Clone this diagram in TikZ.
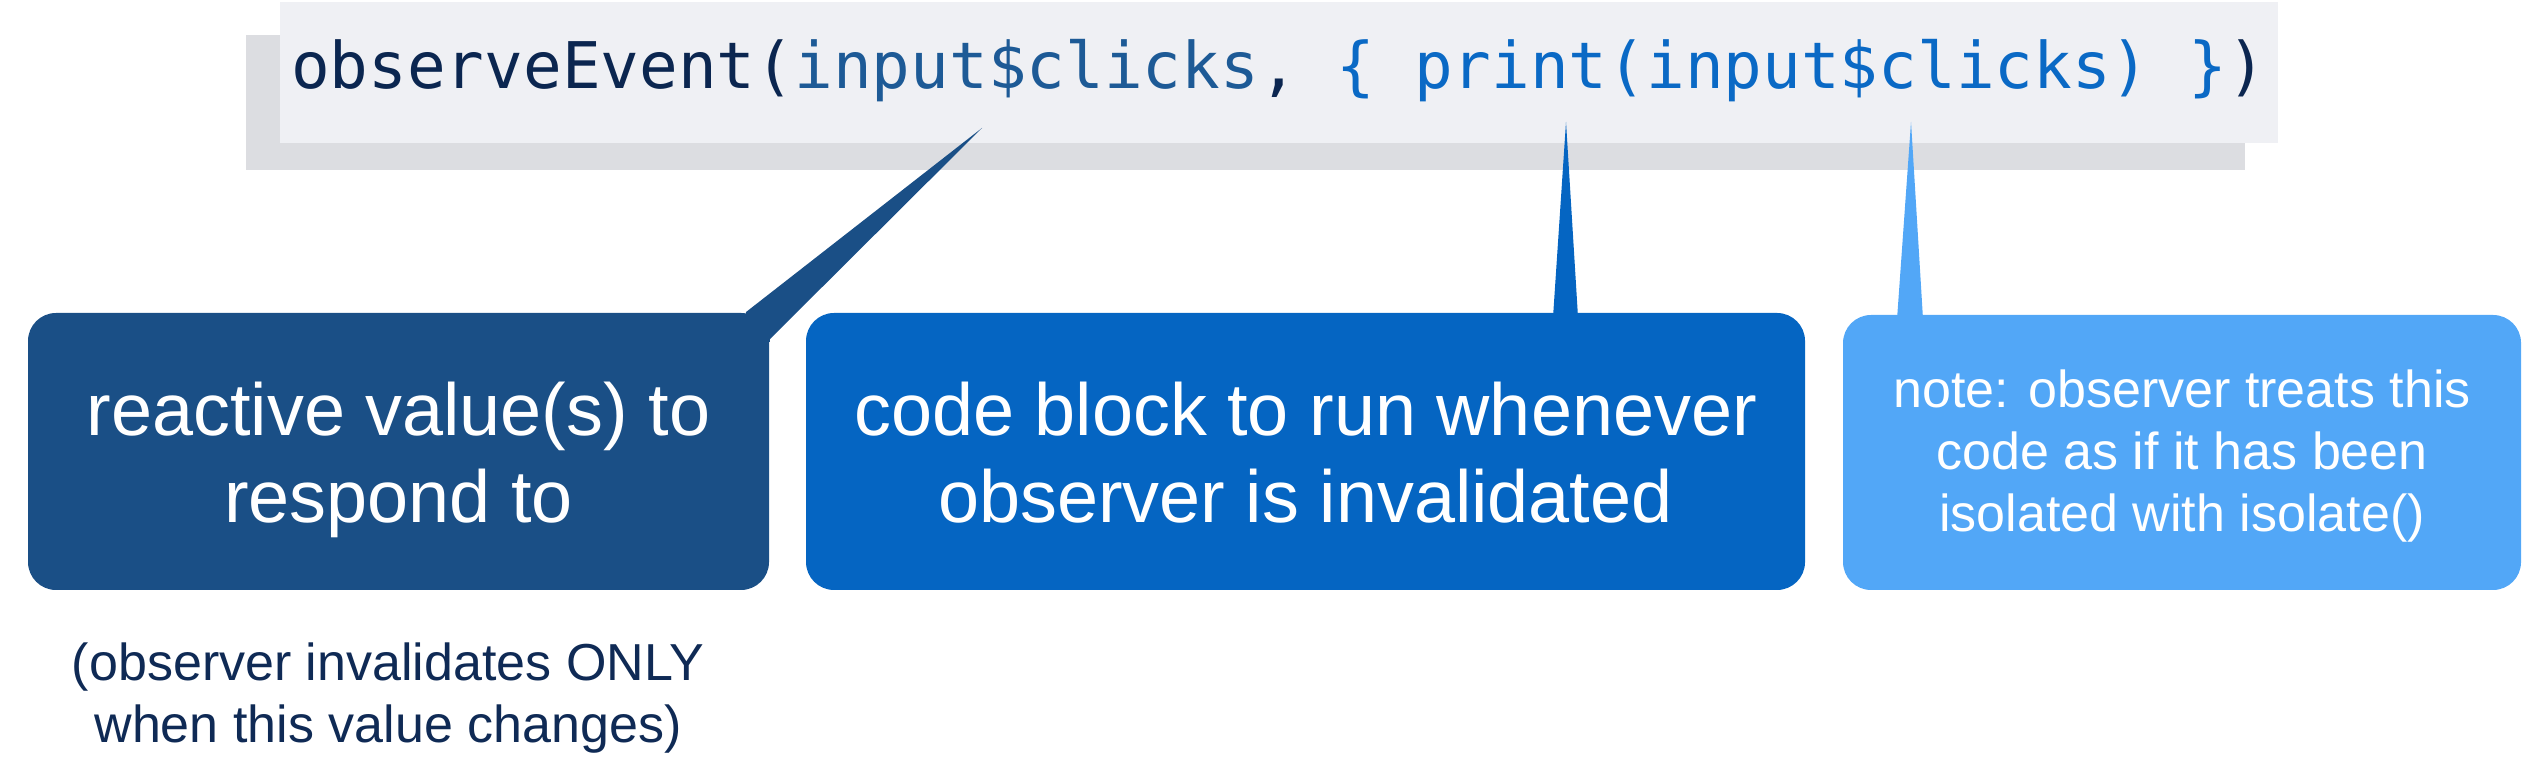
\documentclass[tikz,border=0pt]{standalone}
\usepackage{fontspec}
\setsansfont{Liberation Sans}
\setmonofont{DejaVu Sans Mono}
\usepackage{xcolor}
\usepackage{tikz}
\usetikzlibrary{positioning, calc}
\definecolor{navyblock}{HTML}{1A4F86}
\definecolor{midblock}{HTML}{0565C2}
\definecolor{lightblock}{HTML}{52A7F7}
\definecolor{codebg}{HTML}{EFF0F4}
\definecolor{codeshade}{HTML}{DCDDE1}
\definecolor{codedark}{HTML}{0B2650}
\definecolor{codeval}{HTML}{1D5A96}
\definecolor{codeblk}{HTML}{0A69C5}
\definecolor{notetext}{HTML}{0F2A55}
\tikzset{
  blockN/.style = {rectangle, fill=navyblock, text=white, rounded corners=0.28cm,
                   minimum width=7.41cm, minimum height=2.77cm, align=center,
                   text height=1.63cm, text depth=0.2cm,
                   font=\sffamily\fontsize{21}{25}\selectfont},
  blockB/.style = {rectangle, fill=midblock, text=white, rounded corners=0.28cm,
                   minimum width=9.99cm, minimum height=2.77cm, align=center,
                   text height=1.63cm, text depth=0.2cm,
                   font=\sffamily\fontsize{21}{25}\selectfont},
  blockL/.style = {rectangle, fill=lightblock, text=white, rounded corners=0.28cm,
                   minimum width=6.78cm, minimum height=2.75cm, align=center,
                   text height=1.79cm, text depth=0.2cm,
                   font=\sffamily\fontsize{14.8}{17.7}\selectfont},
  codebox/.style = {rectangle, fill=codebg, minimum width=19.98cm, minimum height=1.41cm,
                    text height=0.52cm, text depth=0.19cm, inner sep=0pt,
                    font=\ttfamily\fontsize{18.3}{22}\selectfont},
  codeshadow/.style = {rectangle, fill=codeshade, minimum width=19.99cm, minimum height=1.35cm},
  note/.style   = {align=center, text=notetext, font=\sffamily\fontsize{14.8}{17.7}\selectfont},
}
\begin{document}
\begin{tikzpicture}
    \useasboundingbox (0,0) rectangle (25.44,-7.72);

    \node[codeshadow] (shade) at (12.455,-1.025) {};
    \node[codebox] (code) at (12.785,-0.725)
      {\textcolor{codedark}{observeEvent(}\textcolor{codeval}{input\$clicks}\textcolor{codedark}{,} \textcolor{codeblk}{\{ print(input\$clicks) \}}\textcolor{codedark}{)}};

    \node[blockN] (react) at (3.985,-4.515) {reactive value(s) to\\respond to};
    \node[blockB] (run)   at (13.055,-4.515) {code block to run whenever\\observer is invalidated};
    \node[blockL] (iso)   at (21.82,-4.525) {note: observer treats this\\code as if it has been\\isolated with isolate()};

    \node[note] (only) at (3.88,-6.98) {(observer invalidates ONLY\\when this value changes)};

    \coordinate (tipN) at (9.82,-1.28);
    \coordinate (tipB) at (15.66,-1.22);
    \coordinate (tipL) at (19.11,-1.22);

    \fill[navyblock] (tipN) -- ($(react.north east)+(-0.24,0)$) -- ($(react.north east)+(0,-0.1)$)
      -- ($(react.north east)+(0,-0.27)$) -- cycle;
    \fill[navyblock] ($(react.north east)+(-0.24,0)$) rectangle ($(react.north east)+(0,-0.3)$);
    \fill[midblock] (tipB) -- ($(run.north)+(2.475,-0.05)$) -- ($(run.north)+(2.725,-0.05)$) -- cycle;
    \fill[lightblock] (tipL) -- ($(iso.north)+(-2.85,-0.05)$) -- ($(iso.north)+(-2.59,-0.05)$) -- cycle;

\end{tikzpicture}
\end{document}
